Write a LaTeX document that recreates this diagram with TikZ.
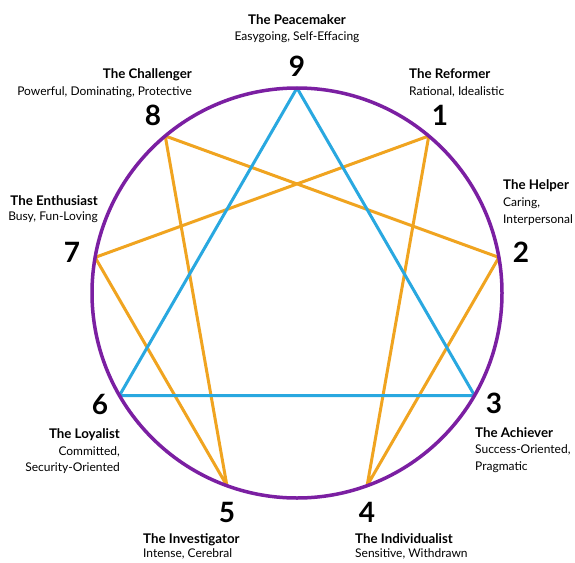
\documentclass[tikz,border=0pt]{standalone}
\usepackage{fontspec}
\setmainfont{Lato}
\definecolor{ringpurple}{RGB}{123,31,162}
\definecolor{triblue}{RGB}{41,168,224}
\definecolor{hexorange}{RGB}{240,164,32}
\begin{document}
\begin{tikzpicture}[x=1pt,y=-1pt,
  ring/.style={draw=ringpurple,line width=3.5pt},
  tri/.style={draw=triblue,line width=3pt,line join=round},
  hex/.style={draw=hexorange,line width=3pt,line join=round},
  num/.style={font=\fontsize{28}{28}\selectfont\bfseries,inner sep=0pt},
  ttl/.style={font=\fontsize{13.3}{13}\selectfont\bfseries,inner sep=0pt},
  sub/.style={font=\fontsize{12}{12}\selectfont,inner sep=0pt}]
\useasboundingbox[fill=white] (0,0) rectangle (575,562);
\coordinate (c) at (297,293);
\foreach \n/\a in {9/-90,1/-50,2/-10,3/30,4/70,5/110,6/150,7/190,8/230}
  \path (c) ++(\a:205) coordinate (p\n);
% hexagram
\draw[hex] (p1) -- (p4) -- (p2) -- (p8) -- (p5) -- (p7) -- cycle;
% triangle
\draw[tri] (p9) -- (p3) -- (p6) -- cycle;
% circle
\draw[ring] (c) circle (205);
% 9
\node[ttl,anchor=base] (t9) at (297,24) {The Peacemaker};
\node[sub,anchor=base] (s9) at (297,40) {Easygoing, Self-Effacing};
\node[num] (n9) at (297,66) {9};
% 1
\node[ttl,anchor=base west] (t1) at (409,78) {The Reformer};
\node[sub,anchor=base west] (s1) at (409,95) {Rational, Idealistic};
\node[num] (n1) at (440,115) {1};
% 8
\node[ttl,anchor=base east] (t8) at (192,78) {The Challenger};
\node[sub,anchor=base east] (s8) at (192,95) {Powerful, Dominating, Protective};
\node[num] (n8) at (153,115) {8};
% 7
\node[ttl,anchor=base east] (t7) at (98,205) {The Enthusiast};
\node[sub,anchor=base east] (s7) at (98,220) {Busy, Fun-Loving};
\node[num] (n7) at (72,252) {7};
% 2
\node[ttl,anchor=base west] (t2) at (503,189) {The Helper};
\node[sub,anchor=base west] (s2a) at (503,206) {Caring,};
\node[sub,anchor=base west] (s2b) at (503,223) {Interpersonal};
\node[num] (n2) at (521,252) {2};
% 6
\node[num] (n6) at (100,404) {6};
\node[ttl,anchor=base east] (t6) at (120,438) {The Loyalist};
\node[sub,anchor=base east] (s6a) at (120,455) {Committed,};
\node[sub,anchor=base east] (s6b) at (120,471) {Security-Oriented};
% 3
\node[num] (n3) at (494,403) {3};
\node[ttl,anchor=base west] (t3) at (475,437) {The Achiever};
\node[sub,anchor=base west] (s3a) at (475,453) {Success-Oriented,};
\node[sub,anchor=base west] (s3b) at (475,470) {Pragmatic};
% 5
\node[num] (n5) at (227,512) {5};
\node[ttl,anchor=base west] (t5) at (143,543) {The Investigator};
\node[sub,anchor=base west] (s5) at (143,557) {Intense, Cerebral};
% 4
\node[num] (n4) at (367,512) {4};
\node[ttl,anchor=base west] (t4) at (355,543) {The Individualist};
\node[sub,anchor=base west] (s4) at (355,557) {Sensitive, Withdrawn};
\end{tikzpicture}
\end{document}
